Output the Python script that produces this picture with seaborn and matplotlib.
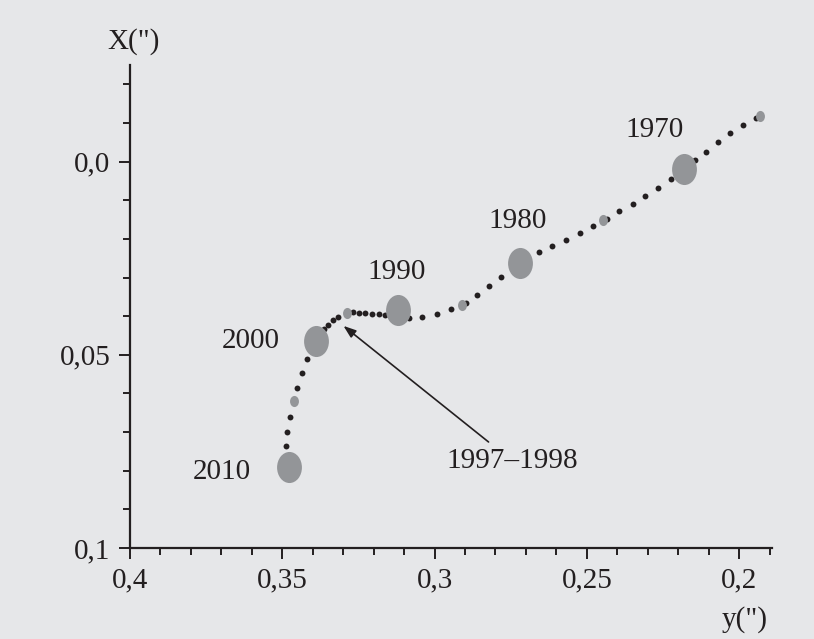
import numpy as np
import pandas as pd
import matplotlib
matplotlib.use("Agg")
import matplotlib.pyplot as plt
from matplotlib.path import Path
from matplotlib.transforms import Affine2D, offset_copy
import seaborn as sns

# ---------------- data ----------------
decade_years = ["1970", "1980", "1990", "2000", "2010"]
decade_y = [0.2181, 0.2718, 0.3121, 0.3389, 0.3478]
decade_x = [0.0020, 0.0263, 0.0385, 0.0465, 0.0790]

half_labels = ["1965", "1975", "1985", "1997–1998", "2005"]
half_y = [0.1930, 0.2448, 0.2911, 0.3287, 0.3461]
half_x = [-0.0117, 0.0151, 0.0370, 0.0392, 0.0619]

path_y = [0.1945, 0.1987, 0.2030, 0.2070, 0.2108, 0.2146, 0.2225, 0.2265,
          0.2308, 0.2350, 0.2393, 0.2433, 0.2480, 0.2523, 0.2568, 0.2613,
          0.2657, 0.2781, 0.2820, 0.2860, 0.2898, 0.2946, 0.2993, 0.3042,
          0.3084, 0.3162, 0.3182, 0.3204, 0.3227, 0.3248, 0.3268, 0.3316,
          0.3335, 0.3351, 0.3362, 0.3420, 0.3436, 0.3452, 0.3475, 0.3483,
          0.3488]
path_x = [-0.0112, -0.0094, -0.0073, -0.0050, -0.0026, -0.0003, 0.0046, 0.0068,
          0.0089, 0.0109, 0.0129, 0.0148, 0.0167, 0.0185, 0.0202, 0.0218,
          0.0235, 0.0298, 0.0322, 0.0345, 0.0365, 0.0382, 0.0395, 0.0401,
          0.0406, 0.0396, 0.0395, 0.0394, 0.0392, 0.0391, 0.0390, 0.0401,
          0.0411, 0.0423, 0.0434, 0.0511, 0.0548, 0.0585, 0.0660, 0.0699,
          0.0737]

xtick_vals = [0.4, 0.35, 0.3, 0.25, 0.2]
xtick_labels = ["0,4", "0,35", "0,3", "0,25", "0,2"]
ytick_vals = [0.0, 0.05, 0.1]
ytick_labels = ["0,0", "0,05", "0,1"]
x_title = 'y(")'
y_title = 'X(")'
arrow_label = "1997–1998"

# ---------------- style ----------------
BG = "#e6e7e9"
INK = "#231f20"
GREY = "#939598"
FS = 21

sns.set_style("ticks")
plt.rcParams["font.family"] = ["Liberation Serif", "DejaVu Serif"]

fig = plt.figure(figsize=(8.14, 6.39), dpi=100, facecolor=BG)
ax = fig.add_axes([130 / 814, 1 - 548 / 639, 642 / 814, 483 / 639])
ax.set_facecolor(BG)

df_path = pd.DataFrame({"y": path_y, "X": path_x})
df_half = pd.DataFrame({"y": half_y, "X": half_x, "label": half_labels})
df_dec = pd.DataFrame({"y": decade_y, "X": decade_x, "year": decade_years})

ellipse = Path.unit_circle().transformed(Affine2D().scale(0.8, 1.0))

sns.scatterplot(data=df_path, x="y", y="X", ax=ax, color=INK, s=18,
                linewidth=0, marker="o", zorder=3, legend=False)
sns.scatterplot(data=df_half, x="y", y="X", ax=ax, color=GREY, s=64,
                linewidth=0, marker=ellipse, zorder=4, legend=False)
sns.scatterplot(data=df_dec, x="y", y="X", ax=ax, color=GREY, s=500,
                linewidth=0, marker=ellipse, zorder=5, legend=False)

# year labels (offsets in pixels from the marker)
offsets = {"1970": (-29, 39), "1980": (-3, 42), "1990": (-1, 38.5),
           "2000": (-65, 0), "2010": (-67, -5)}
for yr, xv, yv in zip(decade_years, decade_y, decade_x):
    dx, dy = offsets[yr]
    ax.annotate(yr, xy=(xv, yv), xytext=(dx, dy), textcoords="offset pixels",
                ha="center", va="center", fontsize=FS, color=INK)

# arrow to 1997-1998
i = half_labels.index(arrow_label)
tip_tr = offset_copy(ax.transData, fig=fig, x=-3.7, y=-12.8, units="dots")
ax.annotate(arrow_label, xy=(half_y[i], half_x[i]), xycoords=tip_tr,
            xytext=(168.7, -135), textcoords="offset pixels",
            ha="center", va="center", fontsize=FS, color=INK,
            arrowprops=dict(arrowstyle="-|>,head_length=0.5,head_width=0.18",
                            mutation_scale=15, color=INK, lw=1.2,
                            shrinkA=3, shrinkB=0))

# axes
ax.set_xlim(0.4, 0.1892)
ax.set_ylim(0.1, -0.025)
ax.set_xticks(xtick_vals, xtick_labels)
ax.set_yticks(ytick_vals, ytick_labels)
ax.set_xticks(np.arange(0.19, 0.4001, 0.01), minor=True)
ax.set_yticks(np.arange(-0.02, 0.1001, 0.01), minor=True)
ax.tick_params(axis="both", which="major", length=8, width=1.4,
               labelsize=FS, colors=INK, pad=6, direction="out")
ax.tick_params(axis="both", which="minor", length=5, width=1.4,
               colors=INK, direction="out")
for side in ["top", "right"]:
    ax.spines[side].set_visible(False)
for side in ["left", "bottom"]:
    ax.spines[side].set_color(INK)
    ax.spines[side].set_linewidth(1.6)

ax.set_xlabel(x_title, fontsize=FS, color=INK, ha="center", va="center")
ax.set_ylabel(y_title, fontsize=FS, color=INK, rotation=0, ha="center", va="center")
ax.xaxis.set_label_coords(0.958, -0.149)
ax.yaxis.set_label_coords(0.006, 1.048)

fig.savefig("out.png", dpi=100, facecolor=BG)
